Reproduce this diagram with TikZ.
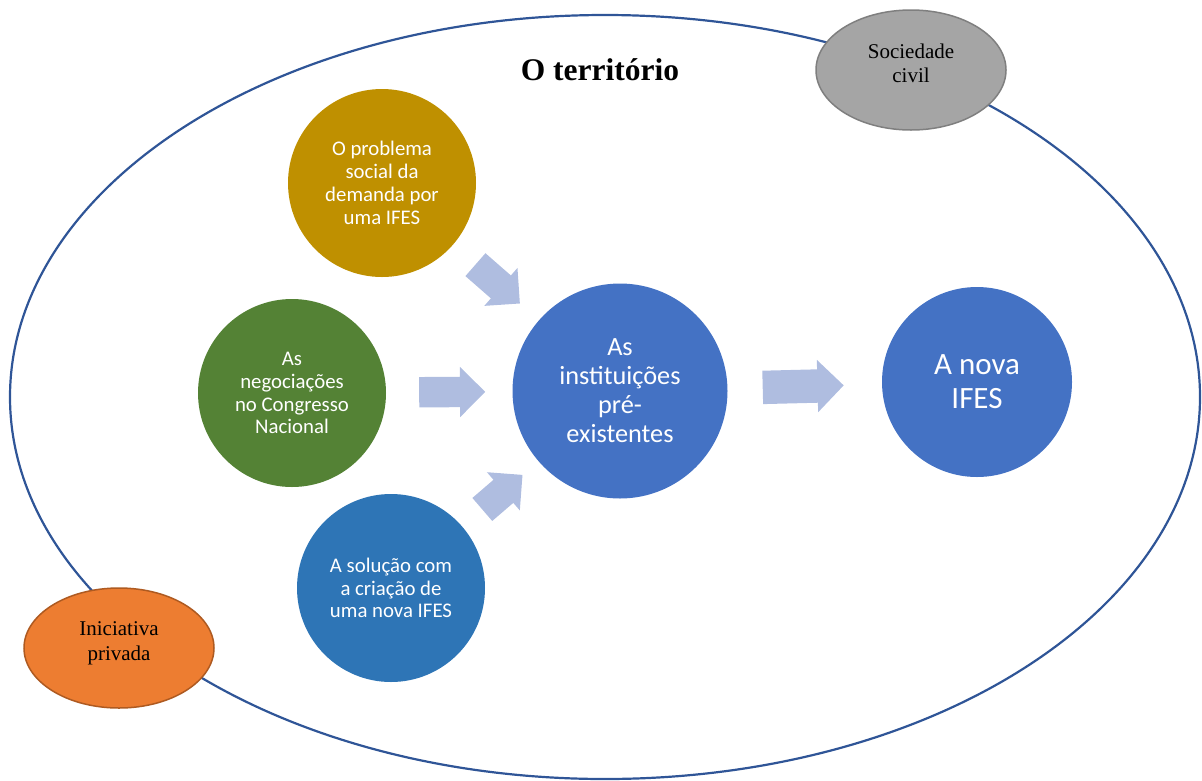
\documentclass[tikz,border=0pt]{standalone}
\usepackage{fontspec}
\setmainfont{Liberation Serif}
\newfontfamily\calibri{Carlito}
\usetikzlibrary{shapes.geometric,shapes.arrows}

\definecolor{terrblue}{HTML}{2F5597}
\definecolor{probgold}{HTML}{BF9000}
\definecolor{negogreen}{HTML}{548235}
\definecolor{solublue}{HTML}{2E75B6}
\definecolor{instblue}{HTML}{4472C4}
\definecolor{arrowblue}{HTML}{AFBDE0}
\definecolor{socgray}{HTML}{A5A5A5}
\definecolor{socedge}{HTML}{7F7F7F}
\definecolor{iniorange}{HTML}{ED7D31}
\definecolor{iniedge}{HTML}{AE5A21}

\tikzset{
	smallcirc/.style={circle, minimum size=188pt, inner sep=0pt, text=white, align=center,
		font=\calibri\fontsize{20.8}{22.8}\selectfont},
	flowarrow/.style={single arrow, fill=arrowblue, draw=none, inner xsep=0pt, inner ysep=15pt,
		single arrow head extend=10pt, sloped, anchor=tail, pos=0.26},
	actor/.style={ellipse, minimum width=190pt, minimum height=120pt, line width=1.5pt,
		align=center, font=\fontsize{21}{24.5}\selectfont, text depth=14pt}
}

\begin{document}
\begin{tikzpicture}[x=1pt, y=-1pt]
		\useasboundingbox (0,0) rectangle (1202,780);
		\node[ellipse, draw=terrblue, line width=2.2pt, minimum width=1190pt, minimum height=764pt] (terr) at (605,397) {};
		\node[font=\bfseries\fontsize{31.5}{36}\selectfont, anchor=base] (titulo) at (600,80) {O território};
		% os tres fatores
		\node[smallcirc, fill=probgold] (prob) at (382,183) {O problema\\social da\\demanda por\\uma IFES};
		\node[smallcirc, fill=negogreen] (nego) at (292,393) {As\\negociações\\no Congresso\\Nacional};
		\node[smallcirc, fill=solublue] (solu) at (391,588) {A solução com\\a criação de\\uma nova IFES};
		\node[smallcirc, fill=instblue, minimum size=215pt, font=\calibri\fontsize{26.3}{29}\selectfont] (inst) at (620,391) {As\\instituições\\pré-\\existentes};
		\node[smallcirc, fill=instblue, minimum size=190pt, font=\calibri\fontsize{31}{34}\selectfont] (nova) at (977,382) {A nova\\IFES};
		\foreach \de/\para/\len in {prob/inst/59, nego/inst/66, solu/inst/53}
		{\path (\de) -- node[flowarrow, minimum height=\len pt] {} (\para);}
		\path (inst) -- node[flowarrow, pos=0.226, minimum height=81pt, inner ysep=16.5pt, single arrow head extend=9.5pt] (seta) {} (nova);
		\node[actor, draw=socedge, fill=socgray] (soc) at (911,70) {Sociedade\\civil};
		\node[actor, draw=iniedge, fill=iniorange] (ini) at (119,648) {Iniciativa\\privada};
\end{tikzpicture}
\end{document}
